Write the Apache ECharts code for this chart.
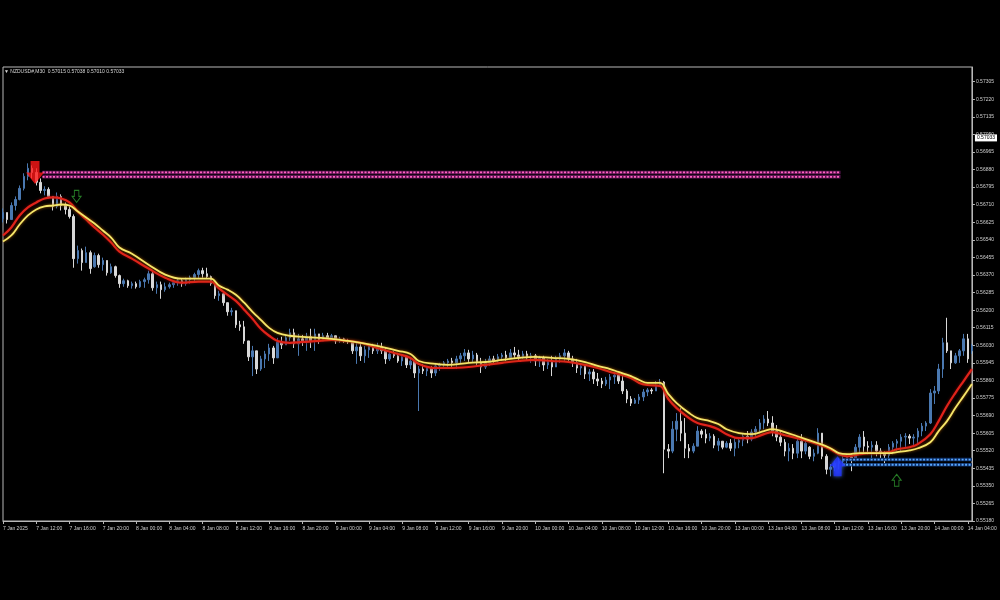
<!DOCTYPE html>
<html>
<head>
<meta charset="utf-8">
<title>NZDUSD M30</title>
<script src="https://cdn.jsdelivr.net/npm/echarts/dist/echarts.min.js"></script>
<style>
  html, body { margin: 0; padding: 0; background: #000; }
  #chart { width: 1000px; height: 600px; }
</style>
</head>
<body>
<div id="chart"></div>
<script>
// bar times: M30 from 7 Jan 08:00 to 14 Jan 04:30 (weekend skipped)
const sessionDays = [7, 8, 9, 10, 13, 14];
const times = [];
sessionDays.forEach(function (d) {
  const from = d === 7 ? 16 : 0;
  const to = d === 14 ? 9 : 47;
  for (let k = from; k <= to; k++) {
    const hh = String(Math.floor(k / 2)).padStart(2, '0');
    const mm = k % 2 ? '30' : '00';
    times.push(d + ' Jan ' + hh + ':' + mm);
  }
});

const opens = [
  0.56643, 0.56672, 0.56638, 0.56706, 0.56735, 0.56789, 0.56847, 0.56886, 0.56866, 0.56818,
  0.56779, 0.56784, 0.56750, 0.56702, 0.56750, 0.56706, 0.56687, 0.56653, 0.56449, 0.56488,
  0.56430, 0.56478, 0.56410, 0.56464, 0.56420, 0.56440, 0.56381, 0.56410, 0.56367, 0.56328,
  0.56342, 0.56318, 0.56328, 0.56313, 0.56338, 0.56347, 0.56376, 0.56308, 0.56323, 0.56299,
  0.56313, 0.56323, 0.56333, 0.56342, 0.56328, 0.56347, 0.56357, 0.56372, 0.56391, 0.56376,
  0.56362, 0.56328, 0.56270, 0.56279, 0.56236, 0.56192, 0.56197, 0.56129, 0.56119, 0.56051,
  0.55974, 0.56003, 0.55915, 0.55964, 0.55988, 0.56017, 0.55969, 0.56046, 0.56032, 0.56066,
  0.56090, 0.56037, 0.56061, 0.56046, 0.56071, 0.56051, 0.56085, 0.56051, 0.56076, 0.56066,
  0.56076, 0.56051, 0.56061, 0.56051, 0.56046, 0.56003, 0.56022, 0.55979, 0.56008, 0.56027,
  0.56003, 0.56022, 0.56003, 0.55964, 0.55988, 0.55979, 0.55954, 0.55974, 0.55935, 0.55954,
  0.55896, 0.55915, 0.55906, 0.55920, 0.55896, 0.55930, 0.55935, 0.55945, 0.55954, 0.55945,
  0.55964, 0.55979, 0.55993, 0.55964, 0.55983, 0.55945, 0.55925, 0.55945, 0.55964, 0.55954,
  0.55974, 0.55983, 0.55969, 0.55993, 0.55983, 0.55974, 0.55988, 0.55969, 0.55979, 0.55954,
  0.55969, 0.55935, 0.55954, 0.55925, 0.55964, 0.55979, 0.55993, 0.55964, 0.55945, 0.55920,
  0.55930, 0.55891, 0.55901, 0.55867, 0.55857, 0.55843, 0.55862, 0.55877, 0.55886, 0.55857,
  0.55809, 0.55770, 0.55750, 0.55765, 0.55780, 0.55804, 0.55814, 0.55809, 0.55838, 0.55852,
  0.55527, 0.55518, 0.55624, 0.55663, 0.55605, 0.55532, 0.55518, 0.55542, 0.55615, 0.55600,
  0.55581, 0.55590, 0.55547, 0.55566, 0.55537, 0.55556, 0.55532, 0.55561, 0.55571, 0.55590,
  0.55576, 0.55610, 0.55624, 0.55654, 0.55673, 0.55654, 0.55615, 0.55586, 0.55561, 0.55518,
  0.55532, 0.55508, 0.55566, 0.55518, 0.55537, 0.55493, 0.55508, 0.55605, 0.55493, 0.55430,
  0.55440, 0.55459, 0.55469, 0.55479, 0.55489, 0.55479, 0.55537, 0.55586, 0.55542, 0.55537,
  0.55547, 0.55518, 0.55508, 0.55498, 0.55537, 0.55556, 0.55566, 0.55586, 0.55590, 0.55581,
  0.55586, 0.55615, 0.55639, 0.55654, 0.55799, 0.55809, 0.55915, 0.56042, 0.56003, 0.55945,
  0.55979, 0.56003, 0.56061, 0.56003
];
const closes = [
  0.56672, 0.56638, 0.56706, 0.56735, 0.56789, 0.56847, 0.56886, 0.56866, 0.56818, 0.56779,
  0.56784, 0.56750, 0.56702, 0.56750, 0.56706, 0.56687, 0.56653, 0.56449, 0.56488, 0.56430,
  0.56478, 0.56401, 0.56464, 0.56420, 0.56440, 0.56381, 0.56410, 0.56367, 0.56328, 0.56342,
  0.56318, 0.56328, 0.56313, 0.56338, 0.56347, 0.56376, 0.56308, 0.56323, 0.56299, 0.56313,
  0.56323, 0.56333, 0.56342, 0.56328, 0.56347, 0.56357, 0.56372, 0.56391, 0.56376, 0.56362,
  0.56328, 0.56270, 0.56279, 0.56236, 0.56192, 0.56197, 0.56129, 0.56119, 0.56051, 0.55974,
  0.56003, 0.55915, 0.55964, 0.55988, 0.56017, 0.55969, 0.56046, 0.56032, 0.56066, 0.56090,
  0.56037, 0.56061, 0.56046, 0.56071, 0.56051, 0.56085, 0.56051, 0.56076, 0.56066, 0.56076,
  0.56051, 0.56061, 0.56051, 0.56046, 0.56003, 0.56022, 0.55979, 0.56008, 0.56027, 0.56003,
  0.56022, 0.56003, 0.55964, 0.55988, 0.55979, 0.55954, 0.55974, 0.55935, 0.55954, 0.55896,
  0.55915, 0.55906, 0.55920, 0.55896, 0.55930, 0.55935, 0.55945, 0.55954, 0.55945, 0.55964,
  0.55979, 0.55993, 0.55964, 0.55983, 0.55945, 0.55925, 0.55945, 0.55964, 0.55954, 0.55974,
  0.55983, 0.55969, 0.55993, 0.55983, 0.55974, 0.55988, 0.55969, 0.55979, 0.55954, 0.55969,
  0.55935, 0.55954, 0.55925, 0.55964, 0.55979, 0.55993, 0.55964, 0.55945, 0.55920, 0.55930,
  0.55891, 0.55901, 0.55867, 0.55857, 0.55843, 0.55862, 0.55877, 0.55886, 0.55857, 0.55809,
  0.55770, 0.55750, 0.55765, 0.55780, 0.55804, 0.55814, 0.55809, 0.55838, 0.55852, 0.55527,
  0.55518, 0.55624, 0.55663, 0.55605, 0.55532, 0.55518, 0.55542, 0.55615, 0.55600, 0.55581,
  0.55590, 0.55547, 0.55566, 0.55537, 0.55556, 0.55532, 0.55561, 0.55571, 0.55590, 0.55576,
  0.55610, 0.55624, 0.55654, 0.55673, 0.55654, 0.55615, 0.55586, 0.55561, 0.55518, 0.55532,
  0.55508, 0.55566, 0.55518, 0.55556, 0.55493, 0.55508, 0.55605, 0.55493, 0.55430, 0.55440,
  0.55459, 0.55469, 0.55479, 0.55489, 0.55479, 0.55537, 0.55586, 0.55542, 0.55537, 0.55547,
  0.55518, 0.55508, 0.55498, 0.55537, 0.55556, 0.55566, 0.55586, 0.55590, 0.55581, 0.55586,
  0.55615, 0.55639, 0.55654, 0.55799, 0.55809, 0.55915, 0.56042, 0.56003, 0.55945, 0.55979,
  0.56003, 0.56061, 0.55964, 0.56027
];
const highs = [
  0.56692, 0.56672, 0.56721, 0.56750, 0.56803, 0.56862, 0.56910, 0.56900, 0.56886, 0.56837,
  0.56799, 0.56794, 0.56750, 0.56769, 0.56760, 0.56721, 0.56702, 0.56663, 0.56512, 0.56498,
  0.56507, 0.56488, 0.56478, 0.56473, 0.56454, 0.56440, 0.56425, 0.56415, 0.56372, 0.56352,
  0.56347, 0.56338, 0.56338, 0.56347, 0.56357, 0.56391, 0.56386, 0.56338, 0.56338, 0.56333,
  0.56333, 0.56338, 0.56352, 0.56352, 0.56357, 0.56367, 0.56381, 0.56401, 0.56405, 0.56405,
  0.56367, 0.56328, 0.56294, 0.56284, 0.56236, 0.56211, 0.56197, 0.56148, 0.56148, 0.56051,
  0.56027, 0.56003, 0.55979, 0.56003, 0.56037, 0.56027, 0.56066, 0.56071, 0.56080, 0.56110,
  0.56110, 0.56085, 0.56080, 0.56090, 0.56110, 0.56110, 0.56085, 0.56090, 0.56090, 0.56085,
  0.56076, 0.56071, 0.56066, 0.56061, 0.56051, 0.56042, 0.56037, 0.56027, 0.56037, 0.56037,
  0.56042, 0.56042, 0.56017, 0.56003, 0.56003, 0.55993, 0.55988, 0.55979, 0.55969, 0.55954,
  0.55930, 0.55940, 0.55930, 0.55930, 0.55945, 0.55945, 0.55954, 0.55964, 0.55969, 0.55979,
  0.55993, 0.56012, 0.56008, 0.56003, 0.55993, 0.55969, 0.55964, 0.55979, 0.55979, 0.55988,
  0.55993, 0.56003, 0.56012, 0.56022, 0.56008, 0.56003, 0.56003, 0.55993, 0.55988, 0.55979,
  0.55979, 0.55964, 0.55979, 0.55979, 0.55993, 0.56012, 0.56003, 0.55979, 0.55964, 0.55945,
  0.55940, 0.55915, 0.55915, 0.55896, 0.55872, 0.55877, 0.55891, 0.55896, 0.55896, 0.55881,
  0.55818, 0.55784, 0.55775, 0.55794, 0.55818, 0.55823, 0.55823, 0.55857, 0.55867, 0.55857,
  0.55552, 0.55663, 0.55702, 0.55726, 0.55678, 0.55552, 0.55556, 0.55639, 0.55624, 0.55624,
  0.55605, 0.55600, 0.55581, 0.55566, 0.55566, 0.55576, 0.55581, 0.55581, 0.55605, 0.55615,
  0.55624, 0.55639, 0.55673, 0.55692, 0.55712, 0.55687, 0.55644, 0.55615, 0.55576, 0.55556,
  0.55552, 0.55590, 0.55600, 0.55576, 0.55542, 0.55527, 0.55629, 0.55605, 0.55503, 0.55455,
  0.55469, 0.55484, 0.55493, 0.55503, 0.55508, 0.55552, 0.55600, 0.55615, 0.55566, 0.55566,
  0.55566, 0.55532, 0.55518, 0.55552, 0.55566, 0.55576, 0.55600, 0.55605, 0.55600, 0.55600,
  0.55629, 0.55654, 0.55663, 0.55818, 0.55833, 0.55940, 0.56066, 0.56163, 0.56003, 0.55993,
  0.56012, 0.56085, 0.56085, 0.56037
];
const lows = [
  0.56624, 0.56619, 0.56638, 0.56682, 0.56731, 0.56779, 0.56828, 0.56837, 0.56803, 0.56765,
  0.56755, 0.56740, 0.56682, 0.56692, 0.56682, 0.56663, 0.56643, 0.56405, 0.56425, 0.56391,
  0.56430, 0.56376, 0.56405, 0.56405, 0.56391, 0.56367, 0.56376, 0.56357, 0.56308, 0.56313,
  0.56308, 0.56304, 0.56304, 0.56308, 0.56308, 0.56328, 0.56294, 0.56279, 0.56255, 0.56289,
  0.56304, 0.56308, 0.56318, 0.56313, 0.56318, 0.56328, 0.56333, 0.56352, 0.56357, 0.56352,
  0.56318, 0.56255, 0.56245, 0.56221, 0.56173, 0.56173, 0.56114, 0.56100, 0.56037, 0.55954,
  0.55881, 0.55891, 0.55906, 0.55920, 0.55954, 0.55940, 0.55969, 0.56012, 0.56032, 0.56051,
  0.56017, 0.55979, 0.56027, 0.56003, 0.56017, 0.56003, 0.56037, 0.56051, 0.56051, 0.56051,
  0.56037, 0.56042, 0.56042, 0.56037, 0.55988, 0.55940, 0.55954, 0.55945, 0.55969, 0.55988,
  0.55988, 0.55988, 0.55940, 0.55954, 0.55969, 0.55945, 0.55930, 0.55920, 0.55915, 0.55872,
  0.55712, 0.55891, 0.55881, 0.55872, 0.55881, 0.55906, 0.55915, 0.55920, 0.55925, 0.55915,
  0.55940, 0.55954, 0.55945, 0.55945, 0.55930, 0.55896, 0.55915, 0.55930, 0.55940, 0.55945,
  0.55954, 0.55954, 0.55964, 0.55969, 0.55954, 0.55964, 0.55954, 0.55945, 0.55930, 0.55925,
  0.55906, 0.55915, 0.55881, 0.55925, 0.55945, 0.55954, 0.55945, 0.55925, 0.55896, 0.55886,
  0.55867, 0.55857, 0.55843, 0.55833, 0.55823, 0.55833, 0.55818, 0.55843, 0.55843, 0.55794,
  0.55750, 0.55736, 0.55746, 0.55746, 0.55760, 0.55784, 0.55794, 0.55809, 0.55833, 0.55411,
  0.55484, 0.55508, 0.55566, 0.55566, 0.55484, 0.55484, 0.55508, 0.55542, 0.55581, 0.55556,
  0.55566, 0.55532, 0.55518, 0.55527, 0.55532, 0.55518, 0.55493, 0.55532, 0.55542, 0.55556,
  0.55566, 0.55581, 0.55605, 0.55624, 0.55639, 0.55590, 0.55566, 0.55542, 0.55493, 0.55469,
  0.55479, 0.55484, 0.55484, 0.55503, 0.55479, 0.55469, 0.55503, 0.55479, 0.55406, 0.55396,
  0.55421, 0.55430, 0.55445, 0.55455, 0.55421, 0.55469, 0.55503, 0.55508, 0.55503, 0.55484,
  0.55493, 0.55484, 0.55455, 0.55484, 0.55503, 0.55518, 0.55518, 0.55532, 0.55552, 0.55542,
  0.55552, 0.55590, 0.55615, 0.55649, 0.55746, 0.55794, 0.55872, 0.55993, 0.55915, 0.55940,
  0.55945, 0.55979, 0.55945, 0.55988
];

// moving averages, [bar index, value]
const fastMa = [
  [0, 0.56561], [2, 0.56600], [4, 0.56658], [6, 0.56697], [8, 0.56721], [10, 0.56740],
  [12, 0.56745], [14, 0.56740], [16, 0.56721], [18, 0.56677], [20, 0.56638], [22, 0.56600],
  [24, 0.56566], [26, 0.56527], [28, 0.56483], [31, 0.56449], [35, 0.56401], [39, 0.56357],
  [43, 0.56333], [47, 0.56338], [50, 0.56338], [52, 0.56304], [54, 0.56274], [56, 0.56245],
  [58, 0.56202], [60, 0.56158], [62, 0.56110], [64, 0.56076], [66, 0.56051], [69, 0.56042],
  [72, 0.56046], [76, 0.56051], [79, 0.56056], [83, 0.56051], [86, 0.56042], [90, 0.56017],
  [95, 0.55988], [98, 0.55969], [100, 0.55940], [104, 0.55920], [107, 0.55920], [112, 0.55925],
  [116, 0.55935], [120, 0.55945], [124, 0.55954], [128, 0.55959], [132, 0.55954], [136, 0.55949],
  [140, 0.55935], [143, 0.55920], [146, 0.55901], [148, 0.55891], [151, 0.55872], [153, 0.55848],
  [155, 0.55838], [158, 0.55833], [160, 0.55770], [162, 0.55726], [165, 0.55678], [167, 0.55654],
  [170, 0.55639], [172, 0.55624], [174, 0.55600], [177, 0.55581], [180, 0.55581], [183, 0.55600],
  [185, 0.55610], [188, 0.55595], [191, 0.55581], [196, 0.55552], [199, 0.55527], [201, 0.55503],
  [203, 0.55493], [206, 0.55503], [208, 0.55508], [210, 0.55508], [213, 0.55513], [215, 0.55527],
  [218, 0.55537], [220, 0.55552], [223, 0.55600], [225, 0.55663], [227, 0.55736], [229, 0.55799],
  [231, 0.55857], [233, 0.55915]
];
const slowMa = [
  [0, 0.56532], [2, 0.56561], [4, 0.56614], [6, 0.56658], [8, 0.56687], [10, 0.56702],
  [12, 0.56706], [14, 0.56711], [16, 0.56706], [18, 0.56677], [20, 0.56648], [22, 0.56619],
  [24, 0.56585], [26, 0.56551], [28, 0.56503], [31, 0.56473], [35, 0.56420], [39, 0.56372],
  [43, 0.56352], [47, 0.56352], [50, 0.56352], [52, 0.56318], [54, 0.56299], [56, 0.56274],
  [58, 0.56236], [60, 0.56192], [62, 0.56153], [64, 0.56114], [66, 0.56090], [69, 0.56076],
  [72, 0.56071], [76, 0.56066], [79, 0.56061], [83, 0.56051], [86, 0.56042], [90, 0.56027],
  [95, 0.56003], [98, 0.55988], [100, 0.55954], [104, 0.55940], [107, 0.55935], [112, 0.55945],
  [116, 0.55949], [120, 0.55959], [124, 0.55969], [128, 0.55974], [132, 0.55969], [136, 0.55964],
  [140, 0.55949], [143, 0.55930], [146, 0.55915], [148, 0.55901], [151, 0.55881], [153, 0.55862],
  [155, 0.55848], [158, 0.55848], [160, 0.55794], [162, 0.55750], [165, 0.55702], [167, 0.55678],
  [170, 0.55663], [172, 0.55649], [174, 0.55624], [177, 0.55605], [180, 0.55600], [183, 0.55615],
  [185, 0.55624], [188, 0.55610], [191, 0.55590], [196, 0.55556], [199, 0.55532], [201, 0.55508],
  [203, 0.55503], [206, 0.55508], [208, 0.55508], [210, 0.55508], [213, 0.55508], [215, 0.55513],
  [218, 0.55522], [220, 0.55532], [223, 0.55561], [225, 0.55615], [227, 0.55663], [229, 0.55726],
  [231, 0.55784], [233, 0.55843]
];

// zone levels [from bar, to bar, price]
const sellZone = [[9.5, 201.4, 0.56866], [9.5, 201.4, 0.56845]];
const buyZone = [[201.9, 233, 0.55477], [201.9, 233, 0.55452]];

// signal arrows [bar, price]
const sellArrow = [[7.7, 0.56866]];
const sellHint = [[17.7, 0.56750]];
const buyArrow = [[200.7, 0.55445]];
const buyHint = [[214.9, 0.55377]];

const yTicks = [
  0.55180, 0.55265, 0.55350, 0.55435, 0.55520, 0.55605, 0.55690, 0.55775, 0.55860,
  0.55945, 0.56030, 0.56115, 0.56200, 0.56285, 0.56370, 0.56455, 0.56540, 0.56625,
  0.56710, 0.56795, 0.56880, 0.56965, 0.57050, 0.57135, 0.57220, 0.57305
];
const lastQuote = 0.57033;
const headerText = '\u25BC NZDUSD#,M30  0.57015 0.57038 0.57010 0.57033';

const FONT = 'Liberation Sans';
const candles = opens.map(function (o, i) { return [o, closes[i], lows[i], highs[i]]; });

function zoneSeries(zone, dark, bright) {
  const out = [];
  zone.forEach(function (z) {
    const pts = [[z[0], z[2]], [z[1], z[2]]];
    out.push({
      type: 'line', xAxisIndex: 1, data: pts, symbol: 'none', silent: true,
      lineStyle: { color: dark, width: 3.5 }, z: 3
    });
    out.push({
      type: 'line', xAxisIndex: 1, data: pts, symbol: 'none', silent: true,
      lineStyle: { color: bright, width: 1.8, type: [2, 1.5] }, z: 4
    });
  });
  return out;
}

const downPath = 'path://M3,0 L9,0 L9,7 L12,7 L6,14 L0,7 L3,7 Z';
const upPath = 'path://M6,0 L12,7 L9,7 L9,14 L3,14 L3,7 L0,7 Z';

const myChart = echarts.init(document.getElementById('chart'));
const option = {
  backgroundColor: '#000',
  animation: false,
  title: {
    text: headerText,
    left: 4, top: 69, padding: 0,
    textStyle: { color: '#d8d8d8', fontSize: 5, fontWeight: 'normal', fontFamily: FONT }
  },
  grid: {
    left: 2, right: 25, top: 67, bottom: 79,
    show: true, borderColor: '#b8b8b8', borderWidth: 1, backgroundColor: '#000'
  },
  xAxis: [
    {
      type: 'category',
      data: times,
      boundaryGap: false,
      axisLine: { onZero: false, lineStyle: { color: '#b8b8b8' } },
      axisTick: {
        interval: function (i) { return i % 8 === 0; },
        length: 3, lineStyle: { color: '#b8b8b8' }
      },
      axisLabel: {
        interval: function (i) { return i % 8 === 0; },
        formatter: function (v, i) { return i === 0 ? '7 Jan 2025' : v; },
        align: 'left', margin: 5,
        color: '#d0d0d0', fontSize: 5, fontFamily: FONT
      },
      splitLine: { show: false }
    },
    { type: 'value', min: 0, max: 233, show: false }
  ],
  yAxis: [
    {
      type: 'value',
      position: 'right',
      min: 0.5518,
      max: 0.57376,
      axisLine: { show: true, onZero: false, lineStyle: { color: '#b8b8b8' } },
      axisTick: { show: true, customValues: yTicks, length: 3, lineStyle: { color: '#b8b8b8' } },
      axisLabel: {
        customValues: yTicks,
        formatter: function (v) { return v.toFixed(5); },
        margin: 4, color: '#d0d0d0', fontSize: 5, fontFamily: FONT
      },
      splitLine: { show: false }
    },
    {
      // current price tag
      type: 'value',
      position: 'right',
      min: 0.5518,
      max: 0.57376,
      axisLine: { show: false, onZero: false },
      axisTick: { show: false },
      axisLabel: {
        customValues: [lastQuote],
        formatter: function (v) { return v.toFixed(5); },
        margin: 3, color: '#000', backgroundColor: '#ffffff', padding: [1, 2],
        fontSize: 5, fontFamily: FONT
      },
      splitLine: { show: false }
    }
  ],
  series: [
    {
      type: 'candlestick',
      data: candles,
      barWidth: 2,
      itemStyle: {
        color: '#4a78b0', color0: '#d8d8d8',
        borderColor: '#4a78b0', borderColor0: '#d8d8d8', borderWidth: 1
      },
      z: 2
    },
    {
      type: 'line', xAxisIndex: 1, data: fastMa, smooth: 0.4, symbol: 'none', silent: true,
      lineStyle: { color: '#e0231a', width: 2.2, shadowColor: '#6a0000', shadowBlur: 3 }, z: 5
    },
    {
      type: 'line', xAxisIndex: 1, data: slowMa, smooth: 0.4, symbol: 'none', silent: true,
      lineStyle: { color: '#f4e66a', width: 1.8, shadowColor: '#a05a00', shadowBlur: 3 }, z: 6
    }
  ]
    .concat(zoneSeries(sellZone, '#5a1450', '#ff62c0'))
    .concat(zoneSeries(buyZone, '#0e2f66', '#59a8ff'))
    .concat([
      {
        type: 'scatter', xAxisIndex: 1, data: sellArrow, symbol: downPath, symbolSize: [18, 23],
        itemStyle: { color: '#ff1818' }, silent: true, z: 8
      },
      {
        type: 'scatter', xAxisIndex: 1, data: sellHint, symbol: downPath, symbolSize: [9, 12],
        itemStyle: { color: 'rgba(0,0,0,0)', borderColor: '#2f9a2f', borderWidth: 1 }, silent: true, z: 8
      },
      {
        type: 'scatter', xAxisIndex: 1, data: buyArrow, symbol: upPath, symbolSize: [16, 20],
        itemStyle: { color: '#2233ff', shadowColor: '#4a7dff', shadowBlur: 4 }, silent: true, z: 8
      },
      {
        type: 'scatter', xAxisIndex: 1, data: buyHint, symbol: upPath, symbolSize: [9, 12],
        itemStyle: { color: 'rgba(0,0,0,0)', borderColor: '#2f9a2f', borderWidth: 1 }, silent: true, z: 8
      }
    ])
};
option && myChart.setOption(option);
</script>
</body>
</html>
